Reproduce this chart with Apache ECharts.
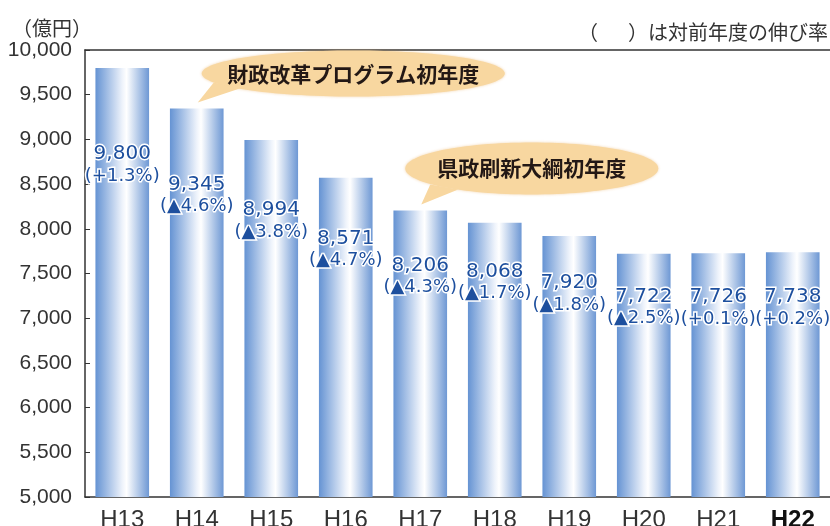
<!DOCTYPE html>
<html>
<head>
<meta charset="utf-8">
<script src="https://cdn.jsdelivr.net/npm/echarts@6/dist/echarts.min.js"></script>
<style>html,body{margin:0;padding:0;background:#fff;}#c{width:830px;height:526px;}</style>
</head>
<body>
<div id="c"></div>
<script>
// ---- data ----
var categories = ['H13','H14','H15','H16','H17','H18','H19','H20','H21','H22'];
var values = [9800, 9345, 8994, 8571, 8206, 8068, 7920, 7722, 7726, 7738];
var changes = ['+1.3','▲4.6','▲3.8','▲4.7','▲4.3','▲1.7','▲1.8','▲2.5','+0.1','+0.2'];
var yTicks = {min: 5000, max: 10000, interval: 500};
var callouts = [
  {text: '財政改革プログラム初年度', category: 'H14'},
  {text: '県政刷新大綱初年度', category: 'H17'}
];

// ---- layout (label vertical offsets from bar top, px) ----
var labelOffsets = [70, 60, 54, 45, 39, 33, 31, 27, 28, 29];

var chart = echarts.init(document.getElementById('c'), null, {renderer: 'canvas'});

var barGradient = new echarts.graphic.LinearGradient(0, 0, 1, 0, [
  {offset: 0, color: '#6593d3'},
  {offset: 0.5, color: '#eef3fb'},
  {offset: 0.58, color: '#ffffff'},
  {offset: 1, color: '#6e98d4'}
]);

var seriesData = values.map(function (v, i) {
  return {
    value: v,
    label: {offset: [0, labelOffsets[i]]}
  };
});

var axisColor = '#333';
var option = {
  animation: false,
  grid: {left: 85, right: 0, top: 50, bottom: 29, containLabel: false, outerBoundsMode: 'none'},
  xAxis: [{
    type: 'category',
    data: categories.map(function (c) {
      return c === 'H22' ? {value: c, textStyle: {fontWeight: 'bold', color: '#111'}} : c;
    }),
    axisLine: {show: true, lineStyle: {color: axisColor, width: 1.5}},
    axisTick: {show: false},
    axisLabel: {color: '#333', fontSize: 24, fontFamily: 'Liberation Sans', margin: 11}
  }, {
    type: 'category',
    position: 'top',
    data: categories,
    axisLine: {show: true, lineStyle: {color: axisColor, width: 1.5}},
    axisTick: {show: false},
    axisLabel: {show: false}
  }],
  yAxis: {
    type: 'value',
    min: yTicks.min, max: yTicks.max, interval: yTicks.interval,
    axisLine: {show: true, lineStyle: {color: axisColor, width: 1.5}},
    axisTick: {show: true, inside: true, length: 5, lineStyle: {color: axisColor}},
    splitLine: {show: false},
    axisLabel: {
      color: '#333', fontSize: 21, fontFamily: 'Liberation Sans', margin: 13,
      formatter: function (v) { return v.toLocaleString('en-US'); }
    }
  },
  series: [{
    type: 'bar',
    data: seriesData,
    barWidth: '72%',
    itemStyle: {color: barGradient},
    label: {
      show: true,
      position: 'insideTop',
      distance: 5,
      formatter: function (p) {
        return '{v|' + p.value.toLocaleString('en-US') + '}\n{p|(' + changes[p.dataIndex] + '%)}';
      },
      rich: {
        v: {fontSize: 20, fontFamily: 'DejaVu Sans', color: '#1d4f9e', lineHeight: 22,
            textBorderColor: '#fff', textBorderWidth: 3},
        p: {fontSize: 18, fontFamily: 'DejaVu Sans', color: '#1d4f9e', lineHeight: 22,
            textBorderColor: '#fff', textBorderWidth: 3}
      }
    }
  }]
};
chart.setOption(option);

// ---- annotations anchored to bar tops ----
var bubbleColor = '#f8d7a0';
var bubbleShapes = [
  {center: [155.5, -29], rx: 151.5, ry: 23, tail: [[16, -20], [42, -14]]},
  {center: [110.5, -36], rx: 126.5, ry: 26, tail: [[9, -20], [37, -15]]}
];
var graphics = [];
callouts.forEach(function (c, i) {
  var idx = categories.indexOf(c.category);
  var p = chart.convertToPixel({seriesIndex: 0}, [idx, values[idx]]);
  var tip = [p[0] + 1, p[1] - 6];
  var s = bubbleShapes[i];
  var cx = tip[0] + s.center[0], cy = tip[1] + s.center[1];
  graphics.push({
    type: 'ellipse', z: 10,
    shape: {cx: cx, cy: cy, rx: s.rx, ry: s.ry},
    style: {fill: bubbleColor, shadowBlur: 3, shadowColor: 'rgba(230,170,90,0.5)'}
  });
  graphics.push({
    type: 'polygon', z: 10,
    shape: {points: [tip, [tip[0] + s.tail[0][0], tip[1] + s.tail[0][1]], [tip[0] + s.tail[1][0], tip[1] + s.tail[1][1]]]},
    style: {fill: bubbleColor}
  });
  graphics.push({
    type: 'text', z: 11,
    x: cx, y: cy,
    style: {text: c.text, fill: '#231815', fontSize: 21, fontWeight: 'bold',
            fontFamily: 'Noto Sans CJK JP', align: 'center', verticalAlign: 'middle'}
  });
});
graphics.push({
  type: 'text', x: 12, y: 28,
  style: {text: '（億円）', fill: '#333', fontSize: 20, fontFamily: 'Noto Sans CJK JP',
          align: 'left', verticalAlign: 'middle'}
});
graphics.push({
  type: 'text', x: 828, y: 32,
  style: {text: '（　\u2002）は対前年度の伸び率', fill: '#333', fontSize: 20, fontFamily: 'Noto Sans CJK JP',
          align: 'right', verticalAlign: 'middle'}
});
chart.setOption({graphic: graphics});
</script>
</body>
</html>
